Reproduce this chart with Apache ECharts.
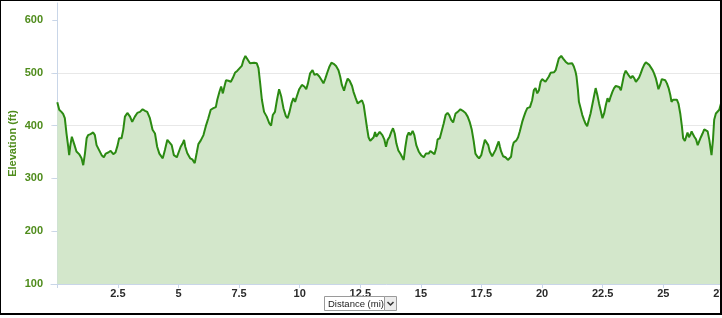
<!DOCTYPE html>
<html>
<head>
<meta charset="utf-8">
<script src="https://cdn.jsdelivr.net/npm/echarts@6/dist/echarts.min.js"></script>
<style>
html,body{margin:0;padding:0;background:#fff;}
#chart{width:722px;height:318px;}
</style>
</head>
<body>
<div id="chart"></div>
<script>
// Distance along the course (miles)
const distanceMi = [
0.00,0.08,0.17,0.24,0.31,0.38,0.45,0.49,0.54,0.60,0.65,0.71,0.79,0.90,1.00,1.07,1.14,1.21,1.27,1.37,
1.48,1.55,1.62,1.73,1.83,1.92,2.00,2.10,2.20,2.31,2.40,2.49,2.55,2.65,2.72,2.79,2.89,3.00,3.09,3.20,
3.30,3.41,3.52,3.62,3.71,3.82,3.93,4.03,4.12,4.21,4.28,4.35,4.44,4.54,4.62,4.72,4.81,4.93,4.99,5.09,
5.17,5.23,5.28,5.36,5.48,5.57,5.67,5.75,5.82,5.92,6.03,6.14,6.23,6.33,6.44,6.54,6.60,6.69,6.76,6.83,
6.89,6.96,7.06,7.16,7.24,7.33,7.43,7.51,7.61,7.68,7.76,7.84,7.95,8.02,8.12,8.23,8.30,8.37,8.44,8.53,
8.64,8.75,8.82,8.89,8.98,9.06,9.15,9.24,9.33,9.43,9.50,9.58,9.66,9.74,9.81,9.88,9.98,10.09,10.19,10.27,
10.34,10.43,10.53,10.61,10.71,10.81,10.92,10.98,11.05,11.15,11.23,11.31,11.40,11.50,11.60,11.67,11.74,11.83,11.91,11.98,
12.06,12.16,12.22,12.31,12.39,12.47,12.57,12.64,12.71,12.78,12.84,12.91,12.98,13.05,13.11,13.16,13.23,13.30,13.36,13.41,
13.49,13.56,13.63,13.71,13.78,13.85,13.92,13.99,14.07,14.15,14.22,14.29,14.36,14.43,14.50,14.57,14.66,14.73,14.81,14.91,
15.01,15.12,15.21,15.32,15.39,15.46,15.56,15.63,15.69,15.78,15.86,15.94,16.02,16.10,16.17,16.25,16.33,16.43,16.52,16.63,
16.73,16.84,16.93,17.02,17.10,17.18,17.25,17.32,17.40,17.49,17.57,17.64,17.71,17.78,17.84,17.94,18.01,18.08,18.15,18.21,
18.26,18.31,18.39,18.49,18.59,18.67,18.72,18.78,18.83,18.94,19.01,19.08,19.18,19.25,19.32,19.39,19.50,19.59,19.66,19.73,
19.80,19.87,19.94,20.00,20.07,20.14,20.21,20.28,20.35,20.42,20.49,20.56,20.62,20.69,20.79,20.87,20.97,21.07,21.15,21.24,
21.31,21.38,21.42,21.48,21.52,21.59,21.66,21.73,21.80,21.86,21.93,22.00,22.07,22.14,22.21,22.28,22.35,22.42,22.49,22.56,
22.63,22.70,22.76,22.83,22.90,22.97,23.04,23.11,23.18,23.25,23.31,23.38,23.45,23.52,23.59,23.66,23.73,23.80,23.87,23.94,
24.00,24.07,24.14,24.21,24.28,24.35,24.42,24.49,24.56,24.62,24.69,24.76,24.80,24.87,24.94,25.01,25.08,25.15,25.22,25.29,
25.34,25.41,25.48,25.56,25.63,25.70,25.77,25.82,25.89,25.95,26.00,26.06,26.11,26.17,26.22,26.28,26.35,26.42,26.48,26.55,
26.62,26.69,26.76,26.83,26.90,26.94,26.99,27.05,27.10,27.17,27.24,27.31,27.38,27.43
];
// Elevation (feet)
const elevationFt = [
444,430,426,422,414,385,360,344,363,379,380,363,351,346,338,325,347,376,382,384,
387,382,363,353,344,340,347,349,352,346,349,363,376,376,392,417,424,417,407,417,
424,426,431,428,426,414,392,385,360,347,344,338,354,373,376,363,344,340,341,360,
366,373,360,348,338,336,329,348,365,372,382,401,414,430,433,435,449,464,474,461,
473,486,485,483,490,500,504,502,513,524,532,529,518,515,519,518,509,480,449,426,
417,404,400,420,426,448,469,455,433,418,414,426,442,452,445,455,469,477,474,469,
480,499,505,496,498,493,485,480,488,502,512,519,517,513,505,493,477,466,480,489,
485,475,464,452,442,445,448,439,417,395,378,371,370,378,388,379,380,388,385,382,
374,360,373,379,388,395,385,366,353,347,341,335,360,380,387,382,390,382,363,351,
344,340,347,347,352,349,346,357,374,376,376,404,420,424,420,411,406,423,426,431,
428,424,417,406,392,370,347,342,338,344,360,373,374,363,351,342,340,354,363,370,
360,351,342,340,335,332,341,360,368,372,378,389,407,417,426,433,435,448,467,471,
461,467,483,488,485,483,486,493,500,502,501,505,515,527,532,527,521,517,519,518,
512,502,493,467,445,433,420,411,403,399,411,423,439,455,471,458,442,428,414,423,
439,452,445,455,464,471,475,477,473,467,480,496,504,504,494,490,494,490,483,485,
491,499,508,515,520,519,515,512,505,499,490,477,469,477,488,490,486,480,471,458,
445,449,450,449,441,423,398,376,371,373,387,378,382,389,384,379,374,363,370,378,
385,393,395,389,373,360,344,373,411,423,422,430,442,448
];
// Axis tick values
const xTickValues = [0,2.5,5,7.5,10,12.5,15,17.5,20,22.5,25,27.5];
const xLabelValues = [2.5,5,7.5,10,12.5,15,17.5,20,22.5,25,27.5];
const yTickValues = [100,200,300,400,500,600];
const yAxisTitle = 'Elevation (ft)';
const xSelectorText = 'Distance (mi)';

const chart = echarts.init(document.getElementById('chart'), null, {renderer:'canvas'});
const axisColor = '#c9d6e8';
const greenText = '#4f8c1c';
const fontFam = '"Liberation Sans", Arial, sans-serif';

chart.setOption({
  animation: false,
  backgroundColor: '#ffffff',
  grid: {left: 51, top: 3, width: 685, height: 281, containLabel: false, outerBoundsMode: 'none'},
  xAxis: {
    type: 'value', min: -0.26, max: 28,
    axisLine: {show: true, lineStyle: {color: axisColor, width: 1}},
    axisTick: {show: true, customValues: xTickValues, length: 4, lineStyle: {color: axisColor}},
    axisLabel: {customValues: xLabelValues, color: '#2a2a2a', fontWeight: 'bold', fontSize: 11, fontFamily: fontFam, margin: 4},
    splitLine: {show: false}
  },
  yAxis: {
    type: 'value', min: 100, max: 632.2, interval: 100,
    name: yAxisTitle, nameLocation: 'middle', nameRotate: 90, nameGap: 33, nameMoveOverlap: false,
    nameTextStyle: {color: greenText, fontWeight: 'bold', fontSize: 11, fontFamily: fontFam},
    axisLine: {show: true, lineStyle: {color: axisColor, width: 1}},
    axisTick: {show: true, customValues: yTickValues, length: 5, lineStyle: {color: axisColor}},
    axisLabel: {customValues: yTickValues, color: greenText, fontWeight: 'bold', fontSize: 11, fontFamily: fontFam, margin: 8},
    splitLine: {show: true, showMinLine: false, showMaxLine: false, lineStyle: {color: '#e8e8e8', width: 1}}
  },
  series: [{
    type: 'line',
    data: distanceMi.map((d, i) => [d, elevationFt[i]]),
    showSymbol: false,
    smooth: false,
    lineStyle: {color: '#2b8a12', width: 2},
    itemStyle: {color: '#2b8a12'},
    areaStyle: {color: '#d3e7cb', opacity: 1, origin: 'start'},
    clip: true
  }],
  graphic: [
    {type: 'rect', shape: {x: 0, y: 0, width: 1, height: 315}, style: {fill: '#000'}, z: 100},
    {type: 'rect', shape: {x: 0, y: 0, width: 722, height: 1}, style: {fill: '#000'}, z: 100},
    {type: 'rect', shape: {x: 720, y: 0, width: 2, height: 315}, style: {fill: '#000'}, z: 100},
    {type: 'rect', shape: {x: 0, y: 313, width: 722, height: 2}, style: {fill: '#000'}, z: 100},
    {type: 'rect', shape: {x: 324.5, y: 296.5, width: 60, height: 14}, style: {fill: '#fff', stroke: '#9a9a9a', lineWidth: 1}, z: 100},
    {type: 'text', x: 328, y: 304, style: {text: xSelectorText, fill: '#222', font: '9.5px ' + fontFam, verticalAlign: 'middle', align: 'left'}, z: 101},
    {type: 'rect', shape: {x: 384.5, y: 296.5, width: 12, height: 14}, style: {fill: '#ececec', stroke: '#9a9a9a', lineWidth: 1}, z: 100},
    {type: 'polyline', shape: {points: [[387.5, 302], [390.5, 305], [393.5, 302]]}, style: {stroke: '#333', lineWidth: 1.5, fill: null}, z: 101}
  ]
});
</script>
</body>
</html>
